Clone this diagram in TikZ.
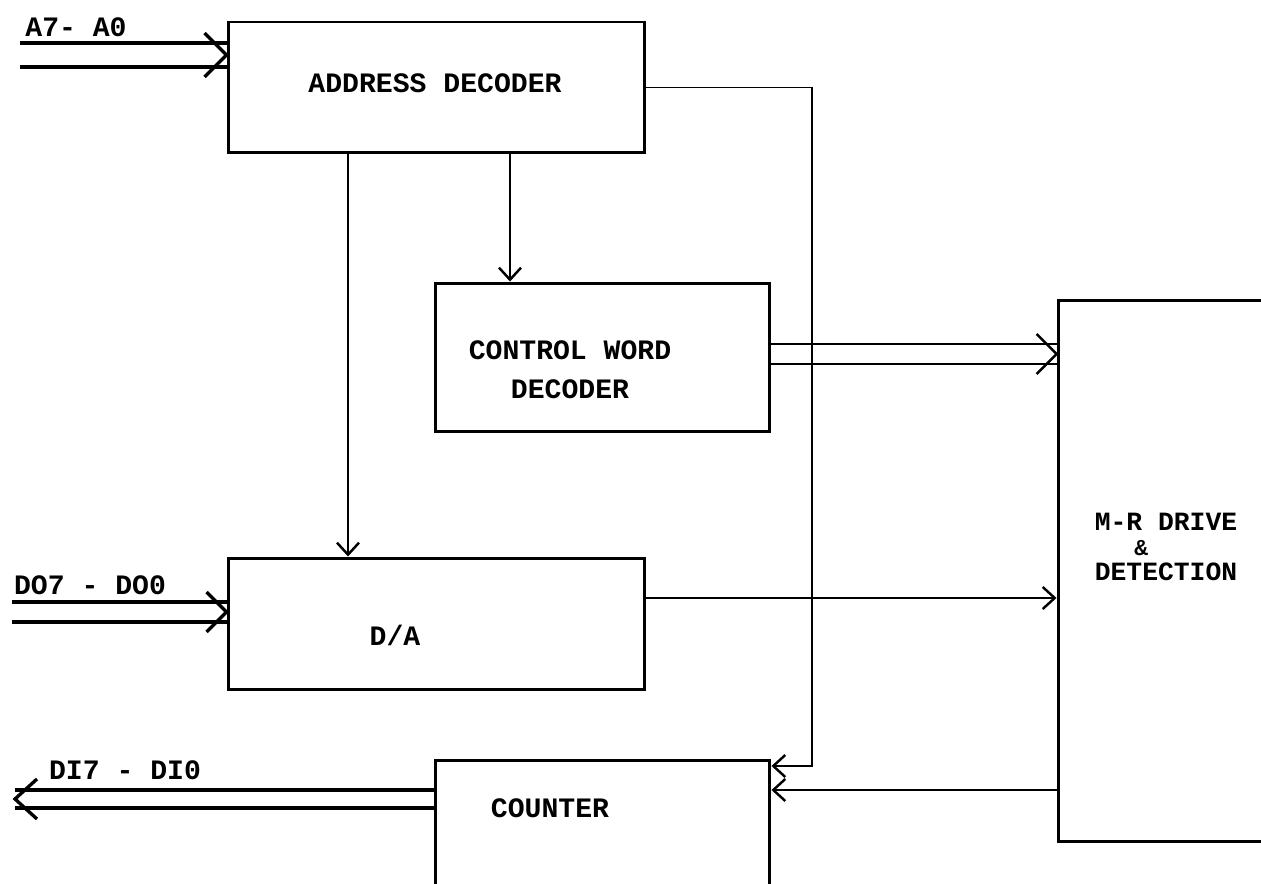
\documentclass[tikz,border=0pt]{standalone}
\usepackage{fontspec}
\setmonofont{Liberation Mono}
\usetikzlibrary{arrows.meta,calc}
\tikzset{
  blk/.style={draw, line width=1.7pt, inner sep=0pt},
  lbl/.style={font=\ttfamily\bfseries\fontsize{16}{22}\selectfont, align=center, inner sep=0pt},
  arr/.style={line width=1pt, -{Straight Barb[length=2.4mm,width=4.4mm,line width=1.4pt]}},
  busline/.style={line width=1.8pt},
  chev/.style={line width=1.9pt, line join=miter}
}

\begin{document}
\begin{tikzpicture}[x=.02cm,y=-.02cm]
\useasboundingbox (0,0) rectangle (1261,884);
\clip (0,0) rectangle (1261,884);
% blocks
\node[blk,minimum width=8.34cm,minimum height=2.62cm] (ad) at (436.5,87.5) {};
\node[blk,minimum width=6.7cm,minimum height=2.98cm] (cw) at (602.5,357.5) {};
\node[blk,minimum width=8.34cm,minimum height=2.64cm] (da) at (436.5,624) {};
\node[blk,minimum width=6.7cm,minimum height=3cm] (cnt) at (602.5,835) {};
\node[blk,minimum width=4.64cm,minimum height=10.84cm] (mr) at (1174,571) {};
% texts
\node[lbl] (adT) at (435,83) {ADDRESS DECODER};
\node[lbl] (cwT) at (570,370) {CONTROL WORD\\DECODER};
\node[lbl] (daT) at (395,635) {D/A};
\node[lbl] (cntT) at (550,808) {COUNTER};
\node[lbl,align=left,font=\ttfamily\bfseries\fontsize{15}{14}\selectfont] (mrT) at (1166,547) {M-R DRIVE\\\hspace*{1.5em}{\fontsize{13}{14}\selectfont\&}\\DETECTION};
\node[lbl] (aT) at (76,27) {A7- A0};
\node[lbl] (doT) at (90,585) {DO7 - DO0};
\node[lbl] (diT) at (125,770) {DI7 - DI0};
% taps
\coordinate (tapDA) at (348,0);
\coordinate (tapCW) at (510,0);
\coordinate (tapBus) at (812,0);
\coordinate (busIn) at (0,766);
\coordinate (daOut) at (0,598);
\coordinate (mrOut) at (0,790);
\draw[arr] (ad.south -| tapDA) -- (da.north -| tapDA);
\draw[arr] (ad.south -| tapCW) -- (cw.north -| tapCW);
\draw[arr] (ad.east) -| (tapBus |- busIn) -- (cnt.east |- busIn);
\draw[arr] (da.east |- daOut) -- (mr.west |- daOut);
\draw[arr] (mr.west |- mrOut) -- (cnt.east |- mrOut);
% buses
\coordinate (aBus) at (20,55);
\coordinate (doBus) at (12,612);
\coordinate (diBus) at (15,799);
\coordinate (cwBus) at (0,354);
\foreach \dy in {-12,12} \draw[busline] ($(aBus)+(0,\dy)$) -- ($(aBus -| ad.west)+(0,\dy)$);
\draw[chev] ($(aBus -| ad.west)+(-22,-22)$) -- (aBus -| ad.west) -- ($(aBus -| ad.west)+(-22,22)$);
\foreach \dy in {-10,10} \draw[busline] ($(doBus)+(0,\dy)$) -- ($(doBus -| da.west)+(0,\dy)$);
\draw[chev] ($(doBus -| da.west)+(-20,-20)$) -- (doBus -| da.west) -- ($(doBus -| da.west)+(-20,20)$);
\foreach \dy in {-9,9} \draw[busline] ($(diBus -| cnt.west)+(0,\dy)$) -- ($(diBus)+(0,\dy)$);
\draw[chev] ($(diBus)+(22,-20)$) -- (diBus) -- ($(diBus)+(22,20)$);
\foreach \dy in {-10,10} \draw[arr,-] ($(cwBus -| cw.east)+(0,\dy)$) -- ($(cwBus -| mr.west)+(0,\dy)$);
\draw[chev,line width=1.4pt] ($(cwBus -| mr.west)+(-20,-20)$) -- (cwBus -| mr.west) -- ($(cwBus -| mr.west)+(-20,20)$);
\end{tikzpicture}
\end{document}
